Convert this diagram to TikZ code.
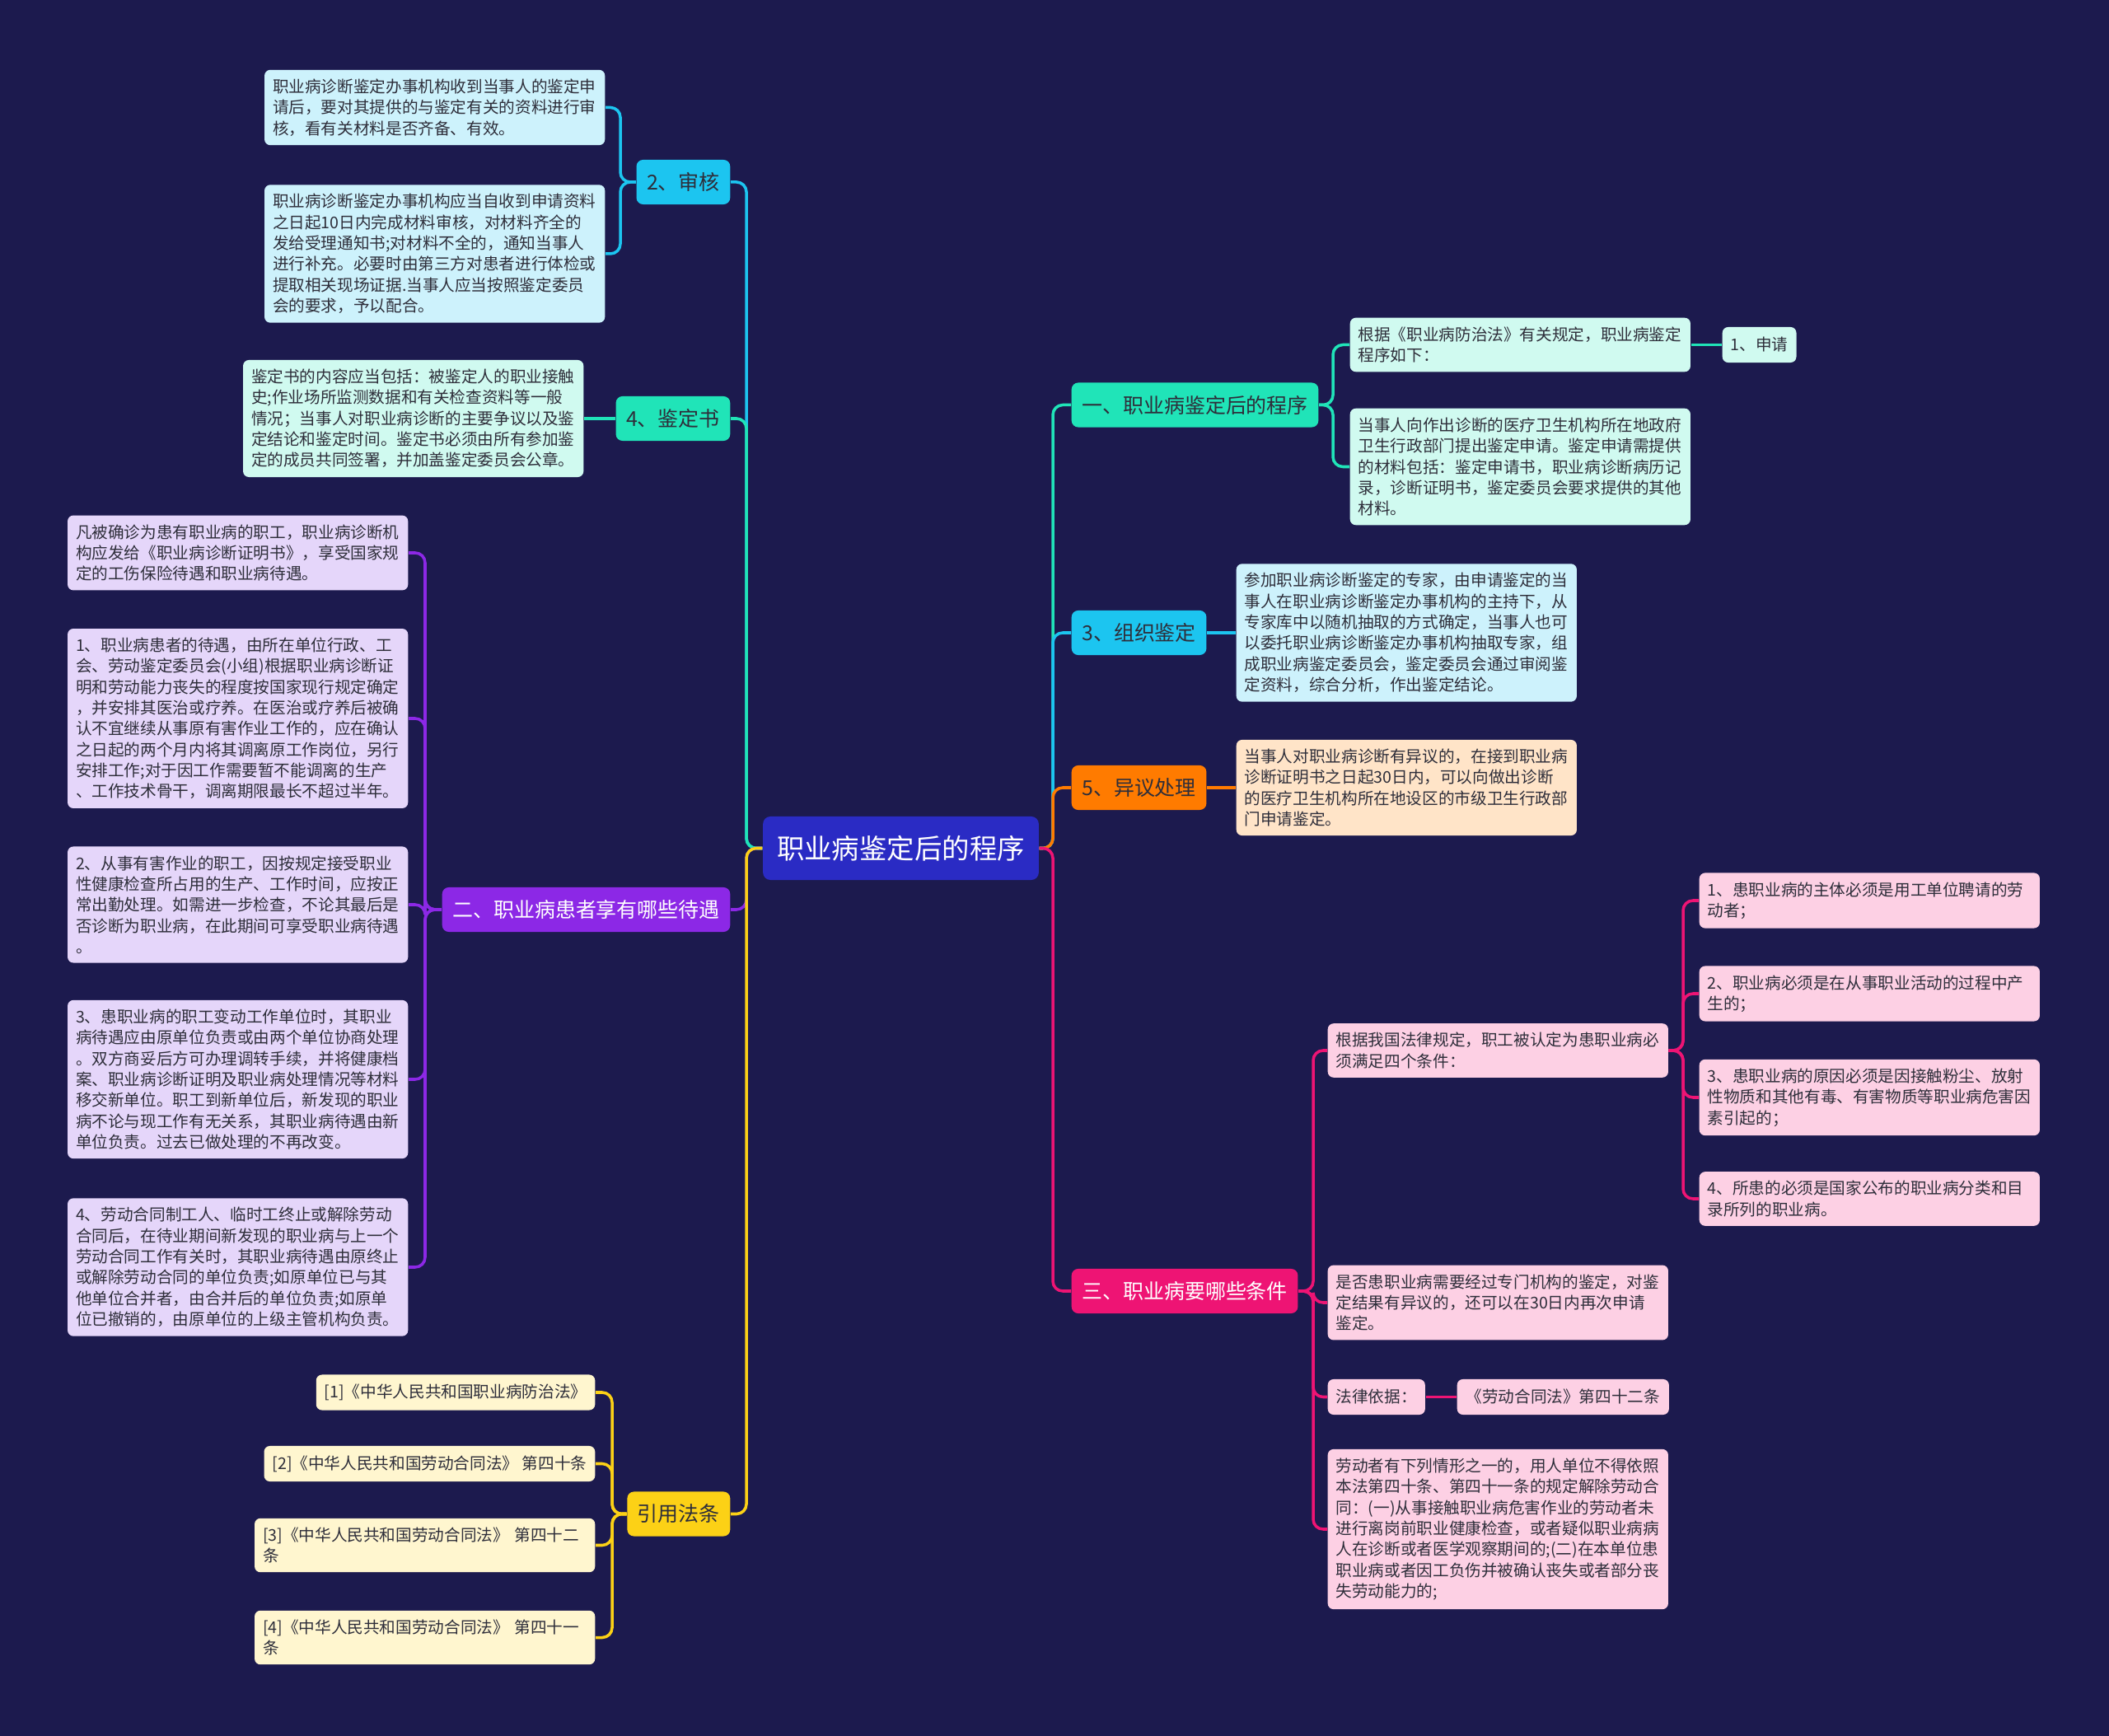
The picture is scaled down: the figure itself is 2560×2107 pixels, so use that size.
\documentclass[tikz,border=0pt]{standalone}
\usepackage{fontspec}
\setmainfont{Noto Sans CJK SC}
\usetikzlibrary{calc}
\definecolor{bg}{HTML}{1C1A4E}
\definecolor{ctrc}{HTML}{2A2BC4}
\definecolor{cy}{HTML}{1CC5F0}
\definecolor{tl}{HTML}{20E4B8}
\definecolor{pu}{HTML}{8C28E6}
\definecolor{ye}{HTML}{FCD116}
\definecolor{orc}{HTML}{FF7B00}
\definecolor{mg}{HTML}{EE1474}
\definecolor{cyl}{HTML}{CDF2FC}
\definecolor{tll}{HTML}{D0FAF0}
\definecolor{pul}{HTML}{E5D6FA}
\definecolor{yel}{HTML}{FFF6CF}
\definecolor{orl}{HTML}{FFE4C8}
\definecolor{mgl}{HTML}{FDD0E4}
\definecolor{dk}{HTML}{2E2E3A}
\begin{document}
\begin{tikzpicture}[x=0.01cm,y=-0.01cm,
  ctrbox/.style={fill=ctrc, text=white, rounded corners=0.09cm, font=\fontsize{9.5pt}{11pt}\selectfont, minimum height=0.77cm, inner xsep=0.17cm, inner ysep=0pt},
  brbox/.style={rounded corners=0.08cm, font=\fontsize{7.1pt}{8.5pt}\selectfont, minimum height=0.54cm, inner xsep=0.125cm, inner ysep=0pt},
  leafbox/.style={rounded corners=0.07cm, text=dk, font=\fontsize{5.58pt}{7.2pt}\selectfont, text width=3.93cm, align=left, inner xsep=0.1cm, inner ysep=0.11cm},
  onebox/.style={rounded corners=0.07cm, text=dk, font=\fontsize{5.58pt}{7.2pt}\selectfont, minimum height=0.43cm, inner xsep=0.1cm, inner ysep=0pt},
  link/.style={line width=1pt, rounded corners=0.12cm},
]
\fill[bg] (0,0) rectangle (2560,2107);
\useasboundingbox (0,0) rectangle (2560,2107);

\coordinate (TL) at (906,0);
\coordinate (TR) at (1278,0);
\coordinate (V2) at (753,0);
\coordinate (VE) at (516,0);
\coordinate (VR) at (743,0);
\coordinate (V1) at (1618,0);
\coordinate (VS) at (1594,0);
\coordinate (VC) at (2043,0);

% centre
\node[ctrbox] (c) at (1093.5,1029.5) {职业病鉴定后的程序};

% ---------- left branches ----------
\node[brbox, fill=cy, text=dk, anchor=east] (s2) at (887,221) {2、审核};
\node[brbox, fill=tl, text=dk, anchor=east] (s4) at (887,508) {4、鉴定书};
\node[brbox, fill=pu, text=white, anchor=east] (er) at (887,1104) {二、职业病患者享有哪些待遇};
\node[brbox, fill=ye, text=dk, anchor=east] (rf) at (887,1837.5) {引用法条};

\node[leafbox, fill=cyl, anchor=east] (a1) at (735,130.5) {职业病诊断鉴定办事机构收到当事人的鉴定申\\请后，要对其提供的与鉴定有关的资料进行审\\核，看有关材料是否齐备、有效。};
\node[leafbox, fill=cyl, anchor=east] (a2) at (735,308) {职业病诊断鉴定办事机构应当自收到申请资料\\之日起10日内完成材料审核，对材料齐全的\\发给受理通知书;对材料不全的，通知当事人\\进行补充。必要时由第三方对患者进行体检或\\提取相关现场证据.当事人应当按照鉴定委员\\会的要求，予以配合。};
\node[leafbox, fill=tll, anchor=east] (b1) at (709,508) {鉴定书的内容应当包括：被鉴定人的职业接触\\史;作业场所监测数据和有关检查资料等一般\\情况；当事人对职业病诊断的主要争议以及鉴\\定结论和鉴定时间。鉴定书必须由所有参加鉴\\定的成员共同签署，并加盖鉴定委员会公章。};

\node[leafbox, fill=pul, anchor=east] (p0) at (496,671) {凡被确诊为患有职业病的职工，职业病诊断机\\构应发给《职业病诊断证明书》，享受国家规\\定的工伤保险待遇和职业病待遇。};
\node[leafbox, fill=pul, anchor=east] (p1) at (496,872) {1、职业病患者的待遇，由所在单位行政、工\\会、劳动鉴定委员会(小组)根据职业病诊断证\\明和劳动能力丧失的程度按国家现行规定确定\\，并安排其医治或疗养。在医治或疗养后被确\\认不宜继续从事原有害作业工作的，应在确认\\之日起的两个月内将其调离原工作岗位，另行\\安排工作;对于因工作需要暂不能调离的生产\\、工作技术骨干，调离期限最长不超过半年。};
\node[leafbox, fill=pul, anchor=east] (p2) at (496,1098) {2、从事有害作业的职工，因按规定接受职业\\性健康检查所占用的生产、工作时间，应按正\\常出勤处理。如需进一步检查，不论其最后是\\否诊断为职业病，在此期间可享受职业病待遇\\。};
\node[leafbox, fill=pul, anchor=east] (p3) at (496,1310) {3、患职业病的职工变动工作单位时，其职业\\病待遇应由原单位负责或由两个单位协商处理\\。双方商妥后方可办理调转手续，并将健康档\\案、职业病诊断证明及职业病处理情况等材料\\移交新单位。职工到新单位后，新发现的职业\\病不论与现工作有无关系，其职业病待遇由新\\单位负责。过去已做处理的不再改变。};
\node[leafbox, fill=pul, anchor=east] (p4) at (496,1538) {4、劳动合同制工人、临时工终止或解除劳动\\合同后，在待业期间新发现的职业病与上一个\\劳动合同工作有关时，其职业病待遇由原终止\\或解除劳动合同的单位负责;如原单位已与其\\他单位合并者，由合并后的单位负责;如原单\\位已撤销的，由原单位的上级主管机构负责。};

\node[onebox, fill=yel, anchor=east] (r1) at (723,1690) {[1]《中华人民共和国职业病防治法》};
\node[onebox, fill=yel, anchor=east] (r2) at (723,1776.5) {[2]《中华人民共和国劳动合同法》 第四十条};
\node[leafbox, fill=yel, anchor=east] (r3) at (723,1875.5) {[3]《中华人民共和国劳动合同法》 第四十二\\条};
\node[leafbox, fill=yel, anchor=east] (r4) at (723,1987.5) {[4]《中华人民共和国劳动合同法》 第四十一\\条};

% ---------- right branches ----------
\node[brbox, fill=tl, text=dk, anchor=west] (s1) at (1300,491.5) {一、职业病鉴定后的程序};
\node[brbox, fill=cy, text=dk, anchor=west] (s3) at (1300,768) {3、组织鉴定};
\node[brbox, fill=orc, text=dk, anchor=west] (s5) at (1300,956) {5、异议处理};
\node[brbox, fill=mg, text=white, anchor=west] (sc) at (1300,1567) {三、职业病要哪些条件};

\node[leafbox, fill=tll, anchor=west] (t1) at (1638,418.5) {根据《职业病防治法》有关规定，职业病鉴定\\程序如下：};
\node[onebox, fill=tll, anchor=west] (sq) at (2090,418.5) {1、申请};
\node[leafbox, fill=tll, anchor=west] (t2) at (1638,566.5) {当事人向作出诊断的医疗卫生机构所在地政府\\卫生行政部门提出鉴定申请。鉴定申请需提供\\的材料包括：鉴定申请书，职业病诊断病历记\\录，诊断证明书，鉴定委员会要求提供的其他\\材料。};
\node[leafbox, fill=cyl, anchor=west] (t3) at (1500,768) {参加职业病诊断鉴定的专家，由申请鉴定的当\\事人在职业病诊断鉴定办事机构的主持下，从\\专家库中以随机抽取的方式确定，当事人也可\\以委托职业病诊断鉴定办事机构抽取专家，组\\成职业病鉴定委员会，鉴定委员会通过审阅鉴\\定资料，综合分析，作出鉴定结论。};
\node[leafbox, fill=orl, anchor=west] (t5) at (1500,956) {当事人对职业病诊断有异议的，在接到职业病\\诊断证明书之日起30日内，可以向做出诊断\\的医疗卫生机构所在地设区的市级卫生行政部\\门申请鉴定。};

\node[leafbox, fill=mgl, anchor=west] (k1) at (1611,1275) {根据我国法律规定，职工被认定为患职业病必\\须满足四个条件：};
\node[leafbox, fill=mgl, anchor=west] (k1a) at (2062,1093) {1、患职业病的主体必须是用工单位聘请的劳\\动者；};
\node[leafbox, fill=mgl, anchor=west] (k1b) at (2062,1206) {2、职业病必须是在从事职业活动的过程中产\\生的；};
\node[leafbox, fill=mgl, anchor=west] (k1c) at (2062,1332) {3、患职业病的原因必须是因接触粉尘、放射\\性物质和其他有毒、有害物质等职业病危害因\\素引起的；};
\node[leafbox, fill=mgl, anchor=west] (k1d) at (2062,1455) {4、所患的必须是国家公布的职业病分类和目\\录所列的职业病。};
\node[leafbox, fill=mgl, anchor=west] (k2) at (1611,1581) {是否患职业病需要经过专门机构的鉴定，对鉴\\定结果有异议的，还可以在30日内再次申请\\鉴定。};
\node[onebox, fill=mgl, anchor=west] (k3) at (1611,1695.5) {法律依据：};
\node[onebox, fill=mgl, anchor=west, minimum width=2.57cm] (k3a) at (1768,1695.5) {《劳动合同法》第四十二条};
\node[leafbox, fill=mgl, anchor=west] (k4) at (1611,1856) {劳动者有下列情形之一的，用人单位不得依照\\本法第四十条、第四十一条的规定解除劳动合\\同：(一)从事接触职业病危害作业的劳动者未\\进行离岗前职业健康检查，或者疑似职业病病\\人在诊断或者医学观察期间的;(二)在本单位患\\职业病或者因工负伤并被确认丧失或者部分丧\\失劳动能力的;};

% ---------- connectors: centre to branches ----------
\draw[link, cy] (c.west) -- (c.west -| TL) |- (s2.east);
\draw[link, tl] (c.west) -- (c.west -| TL) |- (s4.east);
\draw[link, pu] (c.west) -- (c.west -| TL) |- (er.east);
\draw[link, ye] (c.west) -- (c.west -| TL) |- (rf.east);
\draw[link, tl] (c.east) -- (c.east -| TR) |- (s1.west);
\draw[link, cy] (c.east) -- (c.east -| TR) |- (s3.west);
\draw[link, orc] (c.east) -- (c.east -| TR) |- (s5.west);
\draw[link, mg] (c.east) -- (c.east -| TR) |- (sc.west);

% ---------- connectors: branches to leaves ----------
\draw[link, cy] (s2.west) -- (s2.west -| V2) |- (a1.east);
\draw[link, cy] (s2.west) -- (s2.west -| V2) |- (a2.east);
\draw[link, tl] (s4.west) -- (b1.east);
\foreach \n in {p0,p1,p2,p3,p4}
  \draw[link, pu] (er.west) -- (er.west -| VE) |- (\n.east);
\foreach \n in {r1,r2,r3,r4}
  \draw[link, ye] (rf.west) -- (rf.west -| VR) |- (\n.east);
\foreach \n in {t1,t2}
  \draw[link, tl] (s1.east) -- (s1.east -| V1) |- (\n.west);
\draw[link, tl] (t1.east) -- (sq.west);
\draw[link, cy] (s3.east) -- (t3.west);
\draw[link, orc] (s5.east) -- (t5.west);
\foreach \n in {k1,k2,k3,k4}
  \draw[link, mg] (sc.east) -- (sc.east -| VS) |- (\n.west);
\foreach \n in {k1a,k1b,k1c,k1d}
  \draw[link, mg] (k1.east) -- (k1.east -| VC) |- (\n.west);
\draw[link, mg] (k3.east) -- (k3a.west);
\end{tikzpicture}
\end{document}
